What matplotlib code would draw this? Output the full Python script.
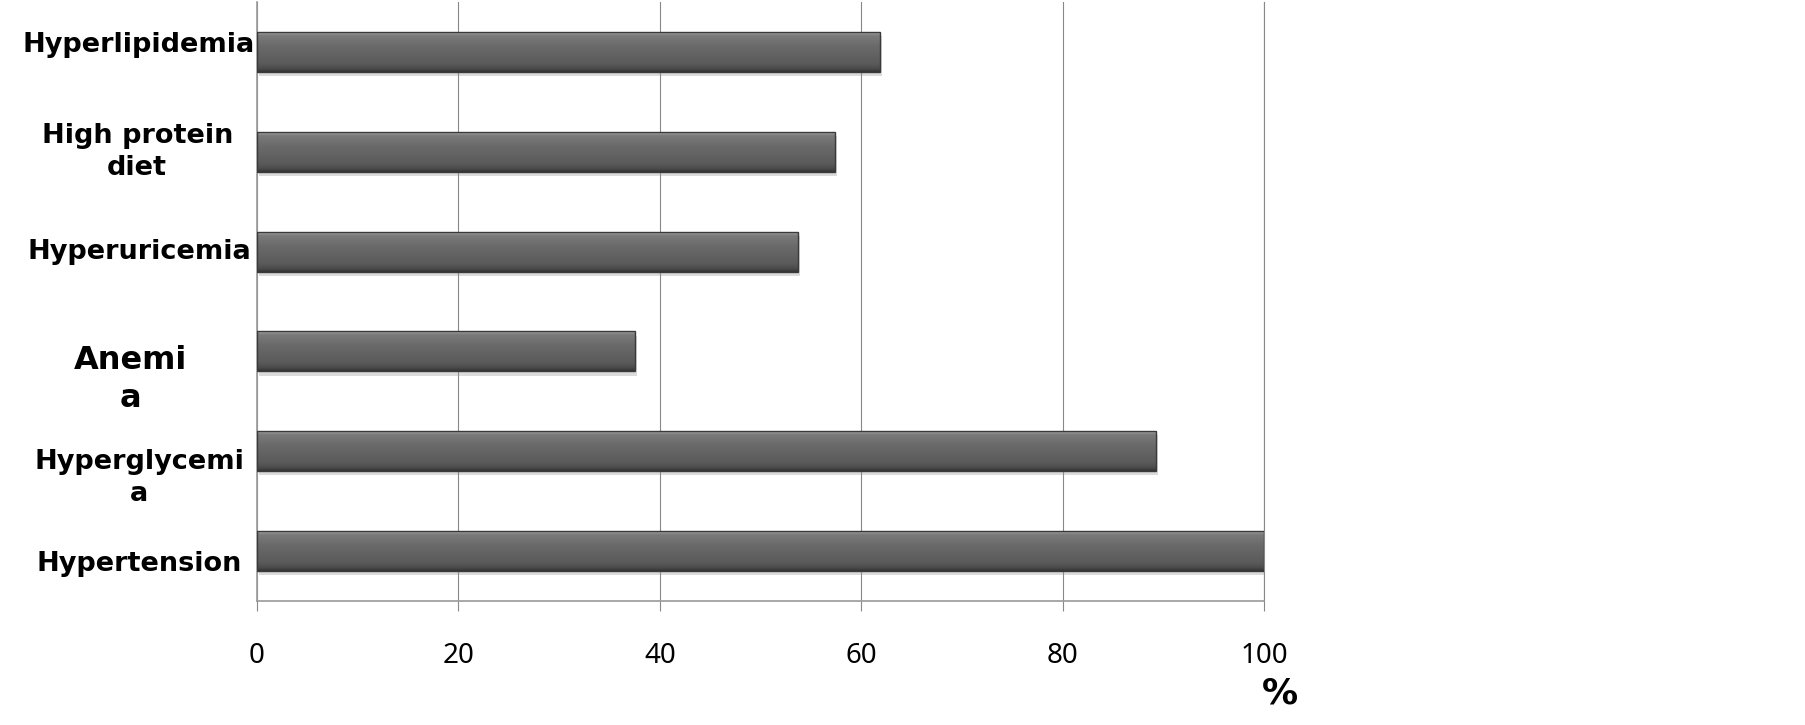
import numpy as np
import matplotlib
matplotlib.use("Agg")
import matplotlib.pyplot as plt
import matplotlib.patches as mpatches
import matplotlib.patheffects as pe
from matplotlib.colors import LinearSegmentedColormap
from matplotlib.transforms import blended_transform_factory

# data, bottom to top
categories = ["Hypertension", "Hyperglycemi\na", "Anemi\na",
              "Hyperuricemia", "High protein\ndiet", "Hyperlipidemia"]
values = [100, 89.3, 37.5, 53.7, 57.4, 61.9]
xticks = [0, 20, 40, 60, 80, 100]

# label tweaks (x centre in data units, vertical nudge, size)
label_x = [-11.7, -11.7, -12.6, -11.7, -11.9, -11.8]
label_dy = [-0.13, -0.27, -0.28, 0.0, 0.0, 0.07]
label_size = [19.5, 19.5, 23, 19.5, 19.5, 19.5]

plt.rcParams['font.family'] = ['Noto Sans', 'DejaVu Sans']

fig = plt.figure(figsize=(18.05, 7.25), dpi=100)
ax = fig.add_axes([0.1424, 0.1710, 0.7003 - 0.1424, 0.9972 - 0.1710])

y = np.arange(len(categories))
bars = ax.barh(y, values, height=0.4, color='#5e5e5e', edgecolor='none', zorder=2,
               path_effects=[pe.SimplePatchShadow(offset=(1.5, -3), shadow_rgbFace='#999999', alpha=0.35),
                             pe.Normal()])

# glossy gradient on each bar
grad = np.linspace(0, 1, 64).reshape(-1, 1)
cmap = LinearSegmentedColormap.from_list('bev', [(0.0, '#a4a4a4'), (0.08, '#7a7a7a'),
                                                 (0.35, '#6a6a6a'), (0.8, '#5a5a5a'),
                                                 (0.92, '#4c4c4c'), (1.0, '#343434')])
for b in bars:
    x0, y0, w, h = b.get_x(), b.get_y(), b.get_width(), b.get_height()
    im = ax.imshow(grad, extent=[x0, x0 + w, y0, y0 + h], origin='upper', aspect='auto',
                   cmap=cmap, zorder=2.5, interpolation='bicubic')
    im.set_clip_path(b)
    ax.add_patch(mpatches.Rectangle((x0, y0), w, h, fill=False, edgecolor='#3a3a3a',
                                    linewidth=1.0, zorder=3))

ax.set_xlim(0, 100)
ax.set_ylim(-0.5, len(categories) - 0.5)

ax.set_xticks(xticks)
ax.set_xticklabels([str(v) for v in xticks], fontsize=20)
ax.tick_params(axis='x', direction='out', length=7.2, width=0.8, color='#888888', pad=22)
ax.set_yticks([])
ax.grid(axis='x', color='#888888', linewidth=0.8)
ax.set_axisbelow(True)

ax.spines['top'].set_visible(False)
ax.spines['right'].set_color('#888888')
ax.spines['right'].set_linewidth(0.8)
for s in ['left', 'bottom']:
    ax.spines[s].set_color('#999999')
    ax.spines[s].set_linewidth(1.2)

for i, lab in enumerate(categories):
    ax.text(label_x[i], y[i] + label_dy[i], lab, ha='center', va='center',
            fontsize=label_size[i], fontweight='bold', family='DejaVu Sans',
            linespacing=1.3, clip_on=False)

trans = blended_transform_factory(ax.transData, ax.transAxes)
ax.text(101.6, -0.154, '%', transform=trans, ha='center', va='center',
        fontsize=26, fontweight='bold', family='DejaVu Sans', clip_on=False)

fig.savefig('out.png', dpi=100, facecolor='white')
